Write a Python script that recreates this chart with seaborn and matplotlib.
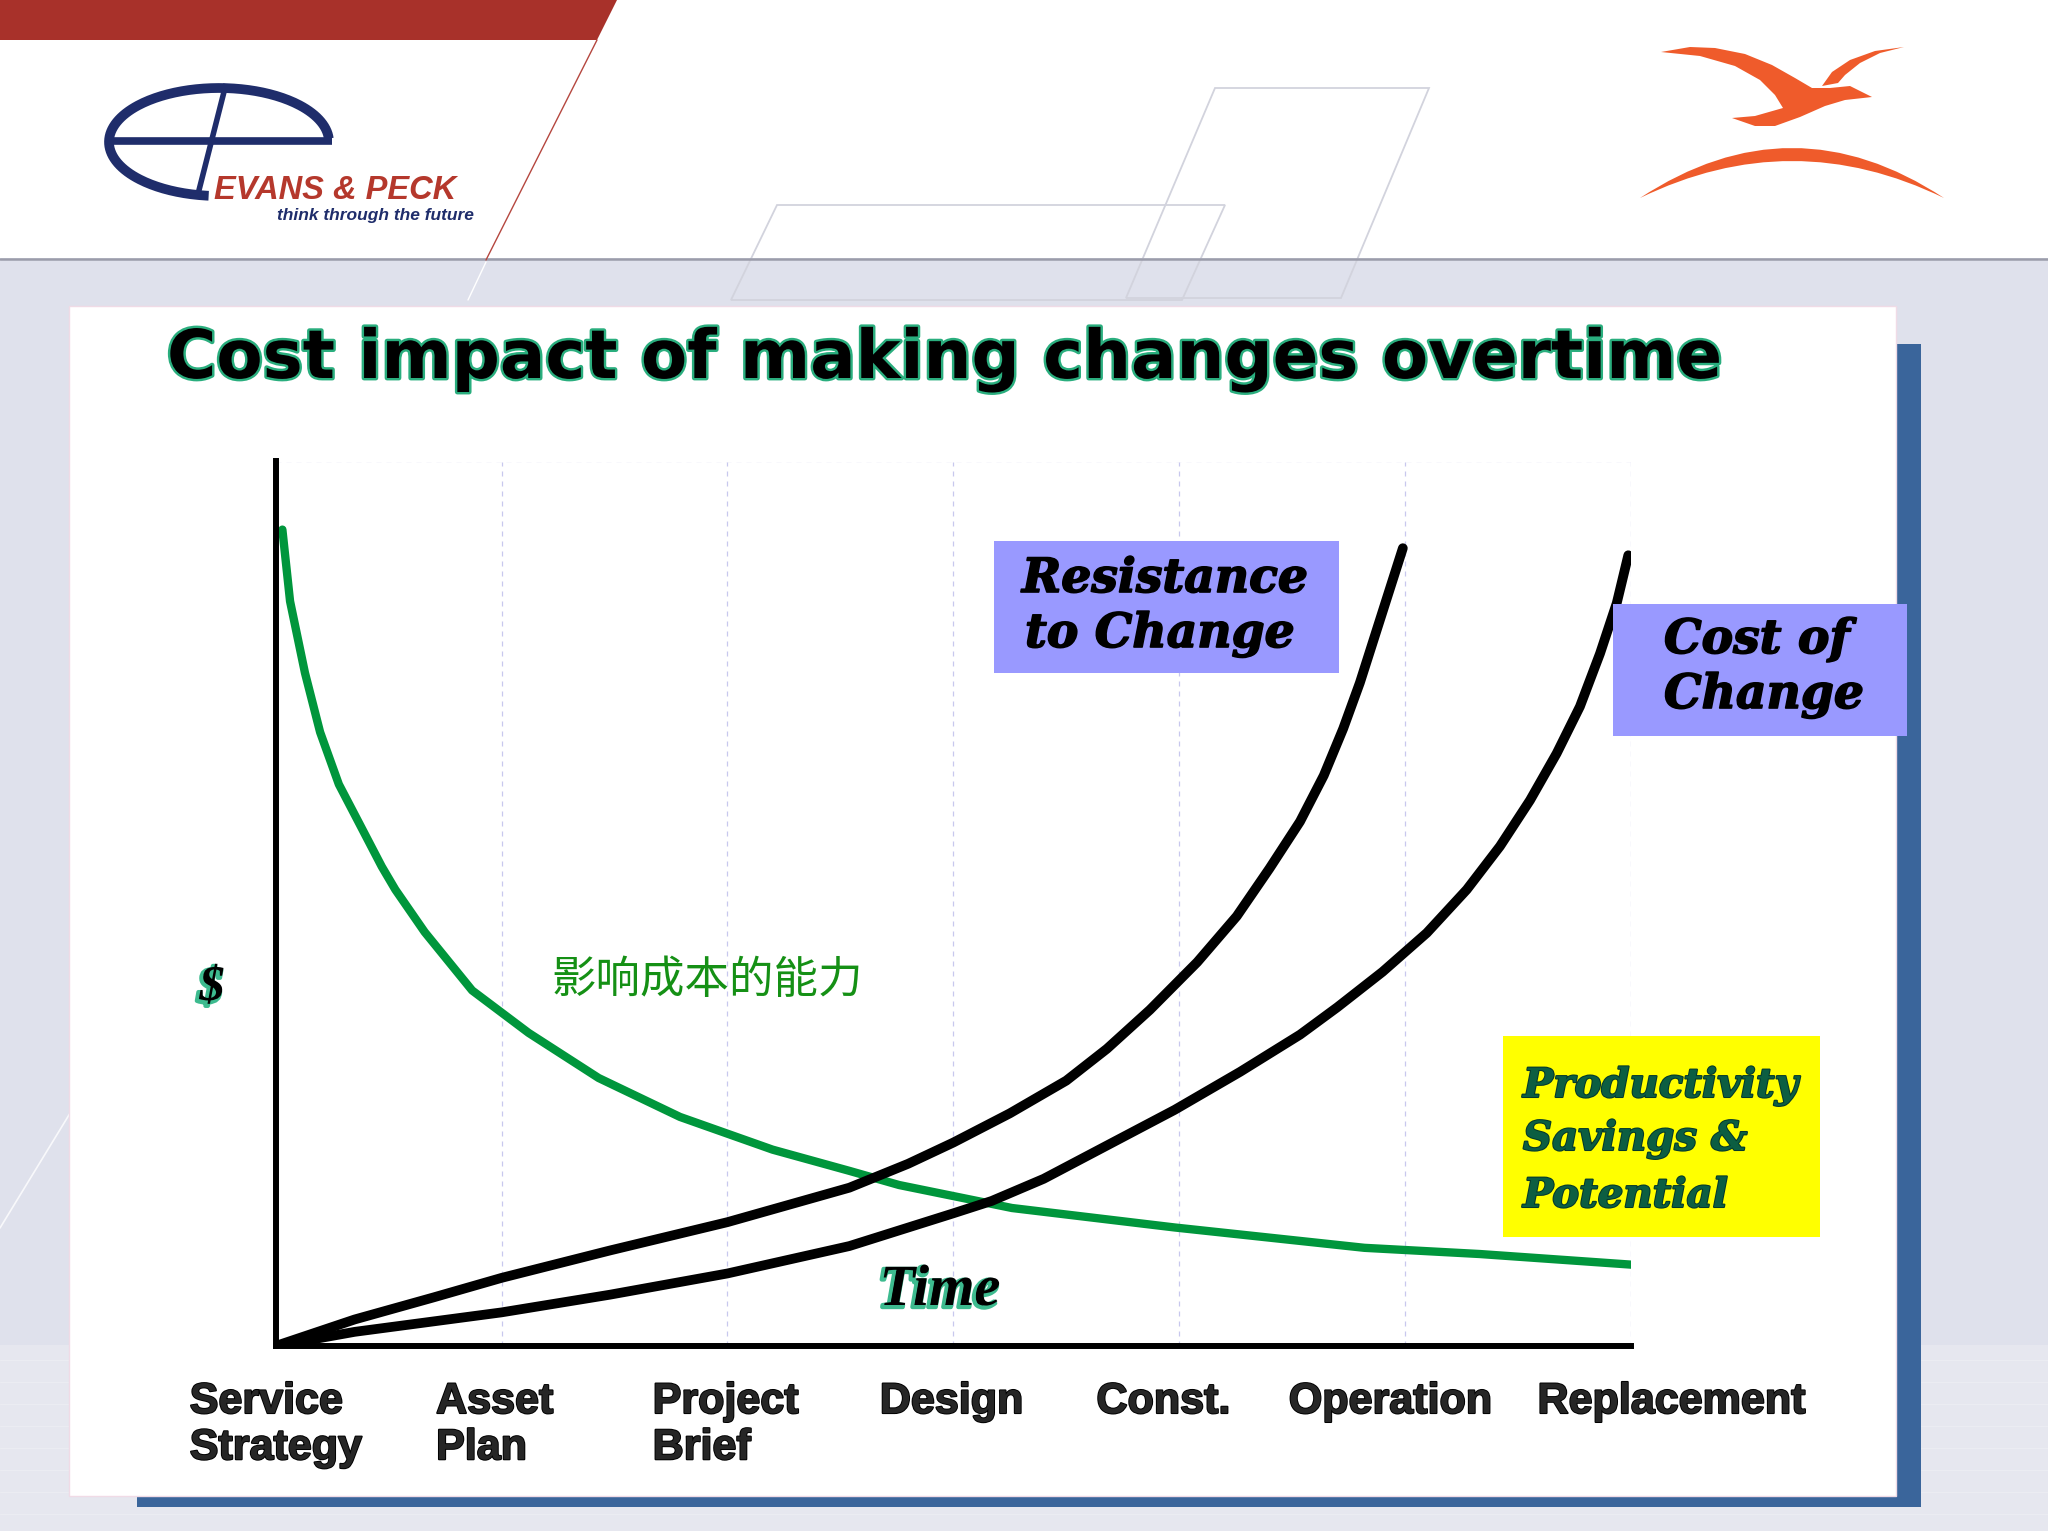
import matplotlib
matplotlib.use("Agg")
import numpy as np
import matplotlib.pyplot as plt
import matplotlib.patches as mpatches
import matplotlib.patheffects as pe
import matplotlib.transforms as mtransforms
import seaborn as sns

# ---- values (x = life-cycle stage index, y = % of axis height) ----
stages = ["Service\nStrategy", "Asset\nPlan", "Project\nBrief", "Design",
          "Const.", "Operation", "Replacement"]

# green curve: ability to influence cost
ability_x = [0.03, 0.064, 0.13, 0.197, 0.28, 0.37, 0.47, 0.53, 0.66, 0.87, 1.12,
             1.43, 1.79, 2.2, 2.54, 2.76, 3.26, 3.98, 4.82, 5.33, 6.0]
ability_y = [92.3, 84.2, 76.1, 69.4, 63.5, 59.1, 54.2, 51.6, 46.8, 40.2, 35.4,
             30.3, 25.9, 22.2, 19.8, 18.2, 15.6, 13.4, 11.1, 10.4, 9.2]

# resistance to change
resist_x = [0, 0.35, 0.7, 1.0, 1.48, 2.0, 2.54, 2.8, 3.0, 3.25, 3.5, 3.68, 3.87, 4.08,
            4.255, 4.40, 4.535, 4.64, 4.726, 4.80, 4.85, 4.92, 4.99]
resist_y = [0, 3.0, 5.5, 7.7, 10.8, 14.0, 17.9, 20.6, 23.0, 26.3, 30.0, 33.6, 38.0, 43.4,
            48.6, 54.0, 59.3, 64.5, 69.8, 75.0, 79.0, 84.6, 90.2]

# cost of change
cost_x = [0, 0.35, 1.0, 1.48, 2.0, 2.54, 3.0, 3.17, 3.40, 3.69, 3.98, 4.27, 4.535, 4.70,
          4.90, 5.096, 5.273, 5.42, 5.553, 5.671, 5.774, 5.863, 5.937, 5.988]
cost_y = [0, 1.6, 3.8, 5.8, 8.2, 11.3, 15.0, 16.4, 18.9, 22.8, 26.7, 31.0, 35.2, 38.3,
          42.3, 46.7, 51.6, 56.5, 61.7, 67.0, 72.3, 78.3, 84.0, 89.4]

title = "Cost impact of making changes overtime"
label_offsets = [0, -7, -2, -2, -16, -15, 40]   # px nudges of the stage labels

sns.set_theme(style="white")
plt.rcParams['font.family'] = ['Liberation Sans', 'Noto Sans CJK SC', 'DejaVu Sans']

W, H = 2048, 1531
fig = plt.figure(figsize=(W / 100, H / 100), dpi=100)
fig.patch.set_facecolor('#dfe1ec')

# ---------- slide background (pixel coordinates) ----------
bg = fig.add_axes([0, 0, 1, 1], zorder=0)
bg.set_xlim(0, W)
bg.set_ylim(H, 0)
bg.axis('off')

bg.add_patch(mpatches.Rectangle((0, 1345), W, H - 1345, color='#e6e7ef', lw=0, zorder=0.2))
for yy in range(1360, H, 22):
    bg.plot([0, W], [yy, yy], color='#ebecf2', lw=1, zorder=0.3)
bg.plot([0, 72], [1228, 1110], color='white', lw=1.2, alpha=0.8, zorder=0.3)

bg.add_patch(mpatches.Rectangle((0, 0), W, 258, color='white', lw=0))
bg.plot([0, W], [259, 259], color='#9b9caa', lw=1.8)
bg.add_patch(mpatches.Polygon([(0, 0), (617, 0), (597, 40), (0, 40)], color='#a8312a', lw=0))
bg.plot([597, 486], [40, 260], color='#b5473f', lw=1)
bg.plot([486, 468], [262, 300], color='white', lw=1)
for shape in ([(1215, 88), (1429, 88), (1341, 298), (1126, 298)],
              [(777, 205), (1225, 205), (1182, 300), (731, 300)]):
    bg.add_patch(mpatches.Polygon(shape, closed=True, fill=False, ec='#d2d3dd', lw=1.3))

# Evans & Peck logo
t = np.linspace(0.02 * np.pi, 1.47 * np.pi, 200)
bg.plot(219 + 110 * np.cos(t), 142 - 54 * np.sin(t), color='#1f2d6b', lw=7, solid_capstyle='butt')
bg.plot([105, 332], [141, 141], color='#1f2d6b', lw=5.5, solid_capstyle='butt')
bg.plot([226, 197], [84, 198], color='#1f2d6b', lw=4, solid_capstyle='butt')
bg.text(214, 199, "EVANS & PECK", color='#b5382c', fontsize=23.5, fontweight='bold',
        style='italic', va='baseline', ha='left')
bg.text(277, 220, "think through the future", color='#1f2d6b', fontsize=12.5,
        style='italic', fontweight='bold', va='baseline', ha='left')

# bird logo
orange = '#ef5b2b'
arc = mpatches.PathPatch(matplotlib.path.Path(
    [(1640, 198), (1792, 98), (1944, 198), (1792, 124), (1640, 198), (1640, 198)],
    [1, 3, 3, 3, 3, 79]), color=orange, lw=0)
bg.add_patch(arc)
bg.add_patch(mpatches.Polygon(
    [(1661, 52), (1690, 47), (1715, 48), (1745, 54), (1772, 65), (1795, 78), (1812, 88),
     (1830, 88), (1850, 86), (1872, 97), (1845, 100), (1825, 106), (1800, 117), (1775, 126),
     (1755, 126), (1732, 118), (1755, 116), (1783, 108), (1775, 95), (1760, 80), (1735, 66),
     (1700, 56)], color=orange, lw=0))
bg.add_patch(mpatches.Polygon(
    [(1822, 86), (1832, 72), (1850, 60), (1875, 51), (1904, 47), (1880, 53), (1860, 63),
     (1845, 75), (1838, 83)], color=orange, lw=0))

# content card with blue shadow
bg.add_patch(mpatches.Rectangle((137, 1496), 1921 - 137, 11, color='#3a659b', lw=0, zorder=3))
bg.add_patch(mpatches.Rectangle((1897, 344), 24, 1163, color='#3a659b', lw=0, zorder=3))
bg.add_patch(mpatches.Rectangle((69, 306), 1827, 1190, fc='white', ec='#f0dbe6', lw=1, zorder=3))

# ---------- the chart ----------
ax = fig.add_axes([275.6 / W, 1 - 1346 / H, (1631 - 275.6) / W, (1346 - 461.5) / H], zorder=2)
ax.patch.set_alpha(0)
sns.lineplot(x=ability_x, y=ability_y, ax=ax, color='#00963c', lw=6,
             estimator=None, sort=False)
sns.lineplot(x=resist_x, y=resist_y, ax=ax, color='black', lw=7,
             estimator=None, sort=False)
sns.lineplot(x=cost_x, y=cost_y, ax=ax, color='black', lw=7,
             estimator=None, sort=False)
for ln in ax.lines:
    ln.set_solid_joinstyle('round')
ax.set_xlim(0, 6)
ax.set_ylim(0, 100)
ax.set_xticks(range(len(stages)))
ax.set_xticklabels(stages, fontsize=31, fontweight='bold', multialignment='left',
                   va='top', linespacing=1.2)
ax.set_yticks([100])
ax.set_yticklabels([])
ax.set_axisbelow(True)
ax.grid(True, color='#c8c8ee', ls=(0, (4, 4)), lw=0.9)
ax.tick_params(length=0, pad=26)
for s in ['top', 'right']:
    ax.spines[s].set_visible(False)
for s in ['left', 'bottom']:
    ax.spines[s].set_color('black')
    ax.spines[s].set_linewidth(4.3)
for lbl, dx in zip(ax.get_xticklabels(), label_offsets):
    lbl.set_transform(lbl.get_transform() + mtransforms.ScaledTranslation(dx / 100, 0, fig.dpi_scale_trans))
    lbl.set_path_effects([pe.Stroke(linewidth=1.4, foreground='black'), pe.Normal()])

# ---------- overlay: title, labels and boxes ----------
fg = fig.add_axes([0, 0, 1, 1], zorder=3)
fg.set_xlim(0, W)
fg.set_ylim(H, 0)
fg.axis('off')
fg.patch.set_alpha(0)

fg.text(944, 378, title, ha='center', va='baseline', fontsize=48.5, fontweight='bold',
        family=['DejaVu Sans'], color='black',
        path_effects=[pe.Stroke(linewidth=3.5, foreground='#2aae7e'), pe.Normal()])

fg.add_patch(mpatches.Rectangle((994, 541), 345, 132, fc='#9999ff', lw=0))
fg.add_patch(mpatches.Rectangle((1613, 604), 294, 132, fc='#9999ff', lw=0))
fg.add_patch(mpatches.Rectangle((1503, 1036), 317, 201, fc='#ffff00', lw=0))

box_font = dict(family=['DejaVu Serif'], fontweight='bold', style='italic',
                fontsize=34, ha='left', va='baseline')
black_fx = [pe.Stroke(linewidth=1.2, foreground='black'), pe.Normal()]
fg.text(1022, 592, "Resistance", color='black', path_effects=black_fx, **box_font)
fg.text(1025, 647, "to Change", color='black', path_effects=black_fx, **box_font)
fg.text(1664, 653, "Cost of", color='black', path_effects=black_fx, **box_font)
fg.text(1664, 708, "Change", color='black', path_effects=black_fx, **box_font)
green_fx = [pe.Stroke(linewidth=1.5, foreground='#05382a'), pe.Normal()]
box_font.update(fontsize=29)
fg.text(1523, 1097, "Productivity", color='#0c5e42', path_effects=green_fx, **box_font)
fg.text(1523, 1150, "Savings &", color='#0c5e42', path_effects=green_fx, **box_font)
fg.text(1523, 1207, "Potential", color='#0c5e42', path_effects=green_fx, **box_font)

teal_fx = [pe.Stroke(linewidth=3, foreground='#3dbb8f', offset=(-1.5, -1.5)), pe.Normal()]
fg.text(212, 988, "$", ha='center', va='center', fontsize=36, fontweight='bold',
        style='italic', family=['Liberation Serif'], color='black', path_effects=teal_fx)
fg.text(940, 1305, "Time", ha='center', va='baseline', fontsize=42, fontweight='bold',
        style='italic', family=['Liberation Serif'], color='black', path_effects=teal_fx)
fg.text(707, 980, "影响成本的能力", ha='center', va='center', fontsize=32,
        family=['Noto Sans CJK SC', 'DejaVu Sans'], color='#159015')

fig.savefig("out.png", dpi=100, facecolor=fig.get_facecolor())
